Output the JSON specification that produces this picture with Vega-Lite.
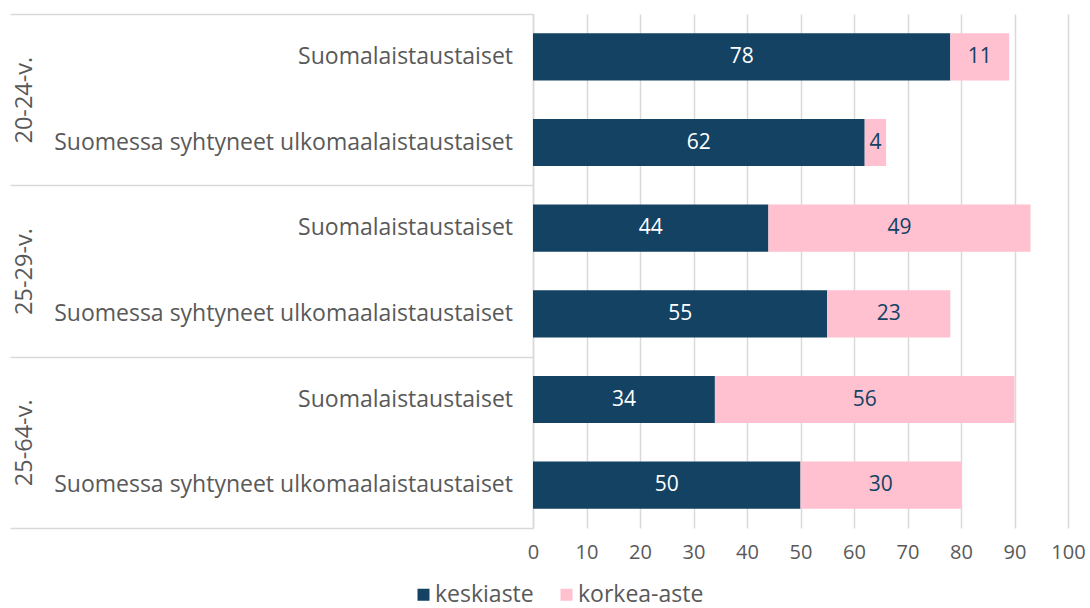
{
  "$schema": "https://vega.github.io/schema/vega-lite/v6.json",
  "width": 535,
  "height": 514,
  "autosize": "none",
  "padding": {"left": 533, "top": 14, "right": 22, "bottom": 80},
  "background": "white",
  "config": {
    "font": "Open Sans",
    "view": {"stroke": null},
    "text": {"font": "Open Sans"}
  },
  "data": {
    "values": [
      {"group": "20-24-v.", "category": "Suomalaistaustaiset", "level": "keskiaste", "value": 78},
      {"group": "20-24-v.", "category": "Suomalaistaustaiset", "level": "korkea-aste", "value": 11},
      {"group": "20-24-v.", "category": "Suomessa syhtyneet ulkomaalaistaustaiset", "level": "keskiaste", "value": 62},
      {"group": "20-24-v.", "category": "Suomessa syhtyneet ulkomaalaistaustaiset", "level": "korkea-aste", "value": 4},
      {"group": "25-29-v.", "category": "Suomalaistaustaiset", "level": "keskiaste", "value": 44},
      {"group": "25-29-v.", "category": "Suomalaistaustaiset", "level": "korkea-aste", "value": 49},
      {"group": "25-29-v.", "category": "Suomessa syhtyneet ulkomaalaistaustaiset", "level": "keskiaste", "value": 55},
      {"group": "25-29-v.", "category": "Suomessa syhtyneet ulkomaalaistaustaiset", "level": "korkea-aste", "value": 23},
      {"group": "25-64-v.", "category": "Suomalaistaustaiset", "level": "keskiaste", "value": 34},
      {"group": "25-64-v.", "category": "Suomalaistaustaiset", "level": "korkea-aste", "value": 56},
      {"group": "25-64-v.", "category": "Suomessa syhtyneet ulkomaalaistaustaiset", "level": "keskiaste", "value": 50},
      {"group": "25-64-v.", "category": "Suomessa syhtyneet ulkomaalaistaustaiset", "level": "korkea-aste", "value": 30}
    ]
  },
  "encoding": {
    "y": {
      "field": "group", "type": "nominal", "sort": null,
      "scale": {"paddingInner": 0, "paddingOuter": 0},
      "axis": {
        "title": null, "tickBand": "extent", "tickSize": 523, "tickColor": "#d9d9d9", "tickWidth": 1.5,
        "domain": true, "domainColor": "#d9d9d9", "domainWidth": 1.5,
        "labelAngle": -90, "labelAlign": "center", "labelBaseline": "middle", "labelPadding": -14,
        "labelFontSize": 23.5, "labelColor": "#595959", "labelFont": "Open Sans"
      }
    },
    "yOffset": {
      "field": "category", "type": "nominal", "sort": null,
      "scale": {"paddingInner": 0.45, "paddingOuter": 0.225}
    }
  },
  "layer": [
    {
      "mark": {"type": "bar"},
      "encoding": {
        "x": {
          "field": "value", "type": "quantitative", "stack": "zero",
          "scale": {"domain": [0, 100], "nice": false},
          "axis": {
            "title": null, "values": [0,10,20,30,40,50,60,70,80,90,100], "domain": false, "ticks": false,
            "grid": true, "gridColor": "#d9d9d9", "gridWidth": 1.5, "labelFlush": false, "labelOverlap": false,
            "labelFontSize": 20, "labelColor": "#595959", "labelPadding": 14, "labelFont": "Open Sans"
          }
        },
        "color": {
          "field": "level", "type": "nominal",
          "scale": {"domain": ["keskiaste", "korkea-aste"], "range": ["#134263", "#ffc0cf"]},
          "legend": {
            "title": null, "orient": "none", "direction": "horizontal", "legendX": -121, "legendY": 569,
            "symbolType": "square", "symbolSize": 144, "symbolStrokeWidth": 0, "labelFontSize": 23,
            "labelColor": "#595959", "columnPadding": 21, "labelOffset": 0, "labelFont": "Open Sans"
          }
        },
        "order": {"field": "level", "sort": "ascending"}
      }
    },
    {
      "mark": {"type": "text", "fontSize": 21, "align": "center", "baseline": "middle"},
      "encoding": {
        "x": {"field": "value", "type": "quantitative", "stack": "zero", "bandPosition": 0.5},
        "detail": {"field": "level"},
        "order": {"field": "level", "sort": "ascending"},
        "text": {"field": "value", "type": "quantitative"},
        "color": {"condition": {"test": "datum.level === 'keskiaste'", "value": "white"}, "value": "#134263"}
      }
    },
    {
      "transform": [{"filter": "datum.level === 'keskiaste'"}],
      "mark": {"type": "text", "fontSize": 23, "align": "right", "baseline": "middle", "dx": -20, "color": "#595959"},
      "encoding": {
        "x": {"datum": 0, "type": "quantitative"},
        "text": {"field": "category"}
      }
    }
  ]
}
